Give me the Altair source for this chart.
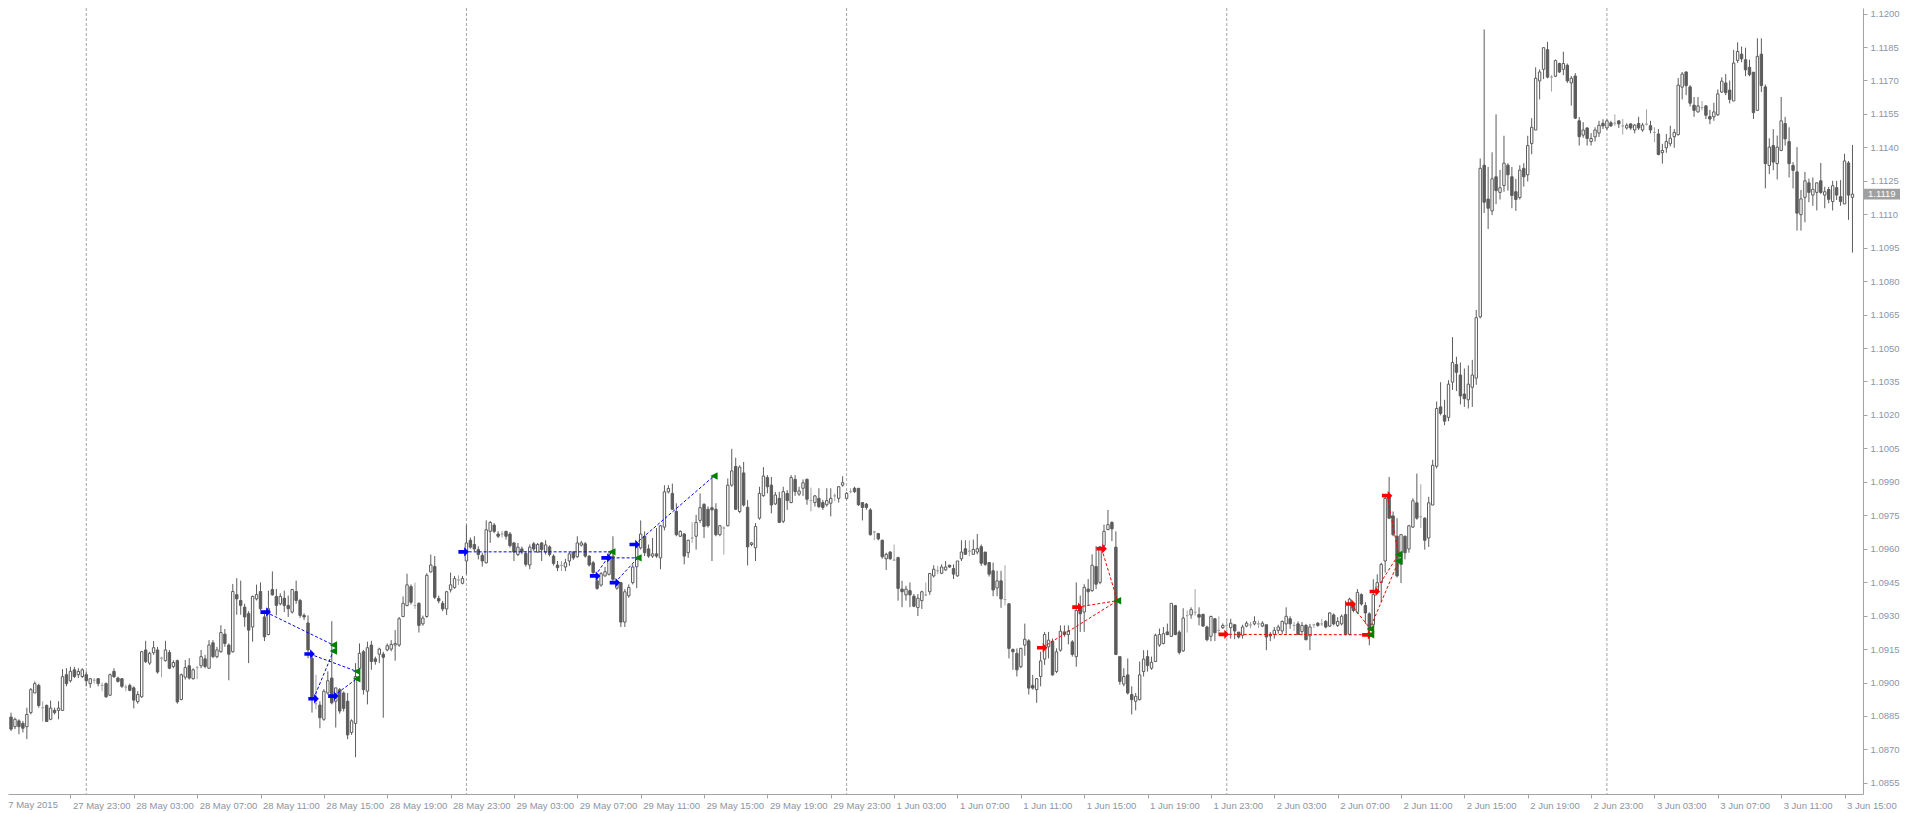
import json
import altair as alt
import pandas as pd

# ---------------- candle data (15-minute EURUSD bars): (open, high, low, close)
may27 = [
    (1.08845, 1.08865, 1.08783, 1.08791), (1.08802, 1.08842, 1.08791, 1.08835),
    (1.08828, 1.08835, 1.08768, 1.08802), (1.08817, 1.08828, 1.08776, 1.08795),
    (1.08802, 1.08887, 1.08746, 1.08857), (1.08865, 1.08975, 1.08857, 1.08968),
    (1.08953, 1.09005, 1.08953, 1.08995), (1.08987, 1.08995, 1.08887, 1.08897),
    (1.08887, 1.08916, 1.08825, 1.08887), (1.08897, 1.08902, 1.08825, 1.08825),
    (1.08835, 1.08919, 1.08831, 1.08885), (1.08875, 1.08887, 1.08857, 1.08865),
    (1.08875, 1.08916, 1.08835, 1.08885), (1.08875, 1.09060, 1.08872, 1.09026),
    (1.09035, 1.09064, 1.08983, 1.08995), (1.09008, 1.09070, 1.09000, 1.09050),
    (1.09057, 1.09070, 1.09020, 1.09027), (1.09035, 1.09064, 1.09020, 1.09050),
    (1.09027, 1.09064, 1.09020, 1.09057),
]
may28 = [
    (1.09035, 1.09050, 1.08983, 1.09008), (1.08995, 1.09020, 1.08976, 1.09017),
    (1.09010, 1.09020, 1.08995, 1.09010), (1.09017, 1.09020, 1.08983, 1.08995),
    (1.08987, 1.09000, 1.08961, 1.08987), (1.08995, 1.09000, 1.08931, 1.08936),
    (1.08943, 1.09040, 1.08940, 1.09035), (1.09050, 1.09064, 1.09020, 1.09026),
    (1.09020, 1.09026, 1.09000, 1.09005), (1.09017, 1.09020, 1.08976, 1.08983),
    (1.08979, 1.08990, 1.08961, 1.08979), (1.08987, 1.08995, 1.08961, 1.08965),
    (1.08976, 1.08983, 1.08884, 1.08921), (1.08914, 1.08961, 1.08905, 1.08946),
    (1.08936, 1.09142, 1.08931, 1.09138), (1.09146, 1.09187, 1.09087, 1.09094),
    (1.09087, 1.09138, 1.09079, 1.09131), (1.09134, 1.09186, 1.09124, 1.09156),
    (1.09146, 1.09160, 1.09040, 1.09047), (1.09109, 1.09116, 1.09024, 1.09109),
    (1.09098, 1.09187, 1.09094, 1.09146), (1.09135, 1.09146, 1.09060, 1.09064),
    (1.09072, 1.09100, 1.09064, 1.09090), (1.09098, 1.09103, 1.08905, 1.08913),
    (1.08924, 1.09040, 1.08920, 1.09035), (1.09024, 1.09101, 1.09013, 1.09067),
    (1.09075, 1.09109, 1.09013, 1.09020), (1.09017, 1.09064, 1.09013, 1.09057),
    (1.09067, 1.09075, 1.09015, 1.09067), (1.09075, 1.09146, 1.09064, 1.09116),
    (1.09106, 1.09124, 1.09064, 1.09072), (1.09064, 1.09190, 1.09064, 1.09168),
    (1.09178, 1.09190, 1.09109, 1.09116), (1.09116, 1.09160, 1.09109, 1.09146),
    (1.09138, 1.09257, 1.09134, 1.09224), (1.09217, 1.09240, 1.09160, 1.09175),
    (1.09168, 1.09175, 1.09010, 1.09127), (1.09138, 1.09442, 1.09134, 1.09408),
    (1.09394, 1.09468, 1.09304, 1.09375), (1.09368, 1.09457, 1.09304, 1.09346),
    (1.09338, 1.09353, 1.09250, 1.09294), (1.09309, 1.09320, 1.09087, 1.09235),
    (1.09249, 1.09390, 1.09183, 1.09386), (1.09375, 1.09439, 1.09368, 1.09394),
    (1.09408, 1.09449, 1.09323, 1.09331), (1.09294, 1.09323, 1.09186, 1.09205),
    (1.09215, 1.09412, 1.09212, 1.09331), (1.09417, 1.09498, 1.09390, 1.09393),
    (1.09386, 1.09420, 1.09301, 1.09346), (1.09353, 1.09400, 1.09346, 1.09386),
    (1.09378, 1.09412, 1.09316, 1.09346), (1.09346, 1.09390, 1.09294, 1.09331),
    (1.09316, 1.09420, 1.09309, 1.09417), (1.09408, 1.09457, 1.09353, 1.09368),
    (1.09368, 1.09375, 1.09290, 1.09301), (1.09301, 1.09310, 1.09280, 1.09294),
    (1.09267, 1.09301, 1.09109, 1.09146), (1.09109, 1.09124, 1.08865, 1.08931),
    (1.08905, 1.09035, 1.08880, 1.08905), (1.08899, 1.08916, 1.08795, 1.08842),
    (1.08835, 1.08970, 1.08828, 1.08961), (1.08953, 1.09050, 1.08946, 1.09008),
    (1.09020, 1.09275, 1.08902, 1.08909), (1.08916, 1.08976, 1.08798, 1.08976),
    (1.08968, 1.08975, 1.08860, 1.08872), (1.08953, 1.08960, 1.08870, 1.08884),
    (1.08916, 1.08953, 1.08746, 1.08765), (1.08776, 1.08835, 1.08765, 1.08828),
    (1.08816, 1.09087, 1.08665, 1.09027), (1.09064, 1.09175, 1.09027, 1.09131),
    (1.09138, 1.09146, 1.08946, 1.08968), (1.08961, 1.09183, 1.08902, 1.09156),
    (1.09168, 1.09187, 1.09057, 1.09094), (1.09106, 1.09116, 1.09080, 1.09094),
    (1.09127, 1.09156, 1.09087, 1.09150), (1.09127, 1.09138, 1.08842, 1.09113),
    (1.09146, 1.09175, 1.09140, 1.09165), (1.09150, 1.09190, 1.09140, 1.09171),
    (1.09168, 1.09235, 1.09098, 1.09175), (1.09168, 1.09294, 1.09160, 1.09286),
    (1.09296, 1.09386, 1.09293, 1.09355), (1.09345, 1.09488, 1.09342, 1.09438),
    (1.09430, 1.09440, 1.09350, 1.09360), (1.09345, 1.09448, 1.09330, 1.09345),
    (1.09355, 1.09360, 1.09224, 1.09256), (1.09263, 1.09300, 1.09255, 1.09289),
    (1.09296, 1.09490, 1.09290, 1.09481), (1.09496, 1.09574, 1.09493, 1.09527),
    (1.09520, 1.09567, 1.09374, 1.09382), (1.09377, 1.09390, 1.09355, 1.09366),
    (1.09355, 1.09366, 1.09320, 1.09330), (1.09330, 1.09411, 1.09303, 1.09407),
    (1.09416, 1.09493, 1.09404, 1.09438), (1.09426, 1.09478, 1.09420, 1.09466),
    (1.09460, 1.09481, 1.09437, 1.09460), (1.09445, 1.09478, 1.09440, 1.09466),
]
may29 = [
    (1.09545, 1.09707, 1.09485, 1.09626), (1.09638, 1.09650, 1.09600, 1.09607),
    (1.09619, 1.09656, 1.09589, 1.09599), (1.09596, 1.09611, 1.09552, 1.09574),
    (1.09570, 1.09582, 1.09520, 1.09545), (1.09537, 1.09727, 1.09534, 1.09685),
    (1.09678, 1.09724, 1.09626, 1.09718), (1.09706, 1.09715, 1.09670, 1.09678),
    (1.09666, 1.09678, 1.09648, 1.09656), (1.09666, 1.09680, 1.09650, 1.09666),
    (1.09678, 1.09680, 1.09641, 1.09656), (1.09666, 1.09675, 1.09605, 1.09614),
    (1.09626, 1.09629, 1.09545, 1.09585), (1.09574, 1.09626, 1.09567, 1.09607),
    (1.09599, 1.09610, 1.09575, 1.09585), (1.09579, 1.09590, 1.09520, 1.09530),
    (1.09527, 1.09619, 1.09508, 1.09607), (1.09622, 1.09630, 1.09590, 1.09599),
    (1.09585, 1.09626, 1.09582, 1.09619), (1.09626, 1.09630, 1.09545, 1.09596),
    (1.09585, 1.09638, 1.09574, 1.09617), (1.09608, 1.09615, 1.09565, 1.09574),
    (1.09567, 1.09575, 1.09525, 1.09534), (1.09527, 1.09545, 1.09500, 1.09515),
    (1.09525, 1.09545, 1.09500, 1.09525), (1.09518, 1.09555, 1.09500, 1.09537),
    (1.09545, 1.09585, 1.09523, 1.09577), (1.09585, 1.09590, 1.09550, 1.09559),
    (1.09564, 1.09656, 1.09559, 1.09626), (1.09616, 1.09635, 1.09610, 1.09626),
    (1.09622, 1.09630, 1.09560, 1.09567), (1.09567, 1.09570, 1.09520, 1.09527),
    (1.09537, 1.09545, 1.09485, 1.09493), (1.09456, 1.09471, 1.09416, 1.09422),
    (1.09437, 1.09495, 1.09430, 1.09488), (1.09478, 1.09519, 1.09475, 1.09497),
    (1.09485, 1.09590, 1.09480, 1.09567), (1.09567, 1.09656, 1.09456, 1.09463),
    (1.09423, 1.09450, 1.09416, 1.09441), (1.09448, 1.09450, 1.09249, 1.09271),
    (1.09271, 1.09419, 1.09249, 1.09407), (1.09389, 1.09440, 1.09380, 1.09426),
    (1.09448, 1.09530, 1.09440, 1.09518), (1.09519, 1.09626, 1.09423, 1.09616),
    (1.09604, 1.09727, 1.09596, 1.09666), (1.09656, 1.09678, 1.09567, 1.09582),
    (1.09599, 1.09619, 1.09559, 1.09567), (1.09567, 1.09648, 1.09559, 1.09577),
    (1.09577, 1.09693, 1.09559, 1.09567), (1.09559, 1.09707, 1.09508, 1.09703),
    (1.09697, 1.09885, 1.09682, 1.09855), (1.09855, 1.09885, 1.09848, 1.09870),
    (1.09848, 1.09892, 1.09774, 1.09777), (1.09767, 1.09804, 1.09656, 1.09663),
    (1.09656, 1.09682, 1.09653, 1.09678), (1.09666, 1.09670, 1.09530, 1.09567),
    (1.09582, 1.09640, 1.09559, 1.09638), (1.09648, 1.09719, 1.09626, 1.09648),
    (1.09656, 1.09752, 1.09596, 1.09718), (1.09727, 1.09848, 1.09715, 1.09784),
    (1.09799, 1.09804, 1.09648, 1.09700), (1.09777, 1.09790, 1.09695, 1.09703),
    (1.09784, 1.09922, 1.09545, 1.09774), (1.09777, 1.09804, 1.09656, 1.09663),
    (1.09663, 1.09705, 1.09656, 1.09703), (1.09693, 1.09700, 1.09574, 1.09693),
    (1.09703, 1.09915, 1.09700, 1.09885), (1.09885, 1.10048, 1.09878, 1.09949),
    (1.09969, 1.10008, 1.09774, 1.09777), (1.09767, 1.09974, 1.09759, 1.09966),
    (1.09940, 1.09989, 1.09789, 1.09796), (1.09786, 1.09818, 1.09525, 1.09608),
    (1.09619, 1.09630, 1.09611, 1.09626), (1.09604, 1.09715, 1.09545, 1.09700),
    (1.09737, 1.09878, 1.09730, 1.09848), (1.09838, 1.09966, 1.09833, 1.09926),
    (1.09919, 1.09930, 1.09848, 1.09878), (1.09885, 1.09922, 1.09759, 1.09796),
    (1.09801, 1.09855, 1.09796, 1.09841), (1.09826, 1.09855, 1.09715, 1.09718),
    (1.09723, 1.09878, 1.09715, 1.09856), (1.09848, 1.09863, 1.09774, 1.09816),
    (1.09807, 1.09930, 1.09804, 1.09919), (1.09911, 1.09930, 1.09837, 1.09856),
    (1.09845, 1.09878, 1.09837, 1.09859), (1.09871, 1.09911, 1.09837, 1.09896),
    (1.09911, 1.09915, 1.09797, 1.09822), (1.09816, 1.09874, 1.09767, 1.09816),
    (1.09807, 1.09841, 1.09789, 1.09837), (1.09826, 1.09871, 1.09782, 1.09789),
    (1.09807, 1.09819, 1.09774, 1.09785), (1.09797, 1.09871, 1.09789, 1.09816),
    (1.09804, 1.09871, 1.09745, 1.09826), (1.09837, 1.09848, 1.09814, 1.09837),
    (1.09826, 1.09881, 1.09807, 1.09878), (1.09885, 1.09925, 1.09878, 1.09896),
]
jun01 = [
    (1.09826, 1.09855, 1.09820, 1.09848), (1.09856, 1.09871, 1.09848, 1.09856),
    (1.09871, 1.09878, 1.09850, 1.09856), (1.09871, 1.09871, 1.09792, 1.09797),
    (1.09807, 1.09807, 1.09727, 1.09785), (1.09800, 1.09805, 1.09775, 1.09785),
    (1.09774, 1.09782, 1.09659, 1.09663), (1.09675, 1.09681, 1.09638, 1.09675),
    (1.09668, 1.09671, 1.09638, 1.09644), (1.09638, 1.09641, 1.09555, 1.09564),
    (1.09555, 1.09582, 1.09505, 1.09575), (1.09585, 1.09590, 1.09550, 1.09555),
    (1.09549, 1.09619, 1.09545, 1.09549), (1.09560, 1.09564, 1.09367, 1.09422),
    (1.09419, 1.09456, 1.09338, 1.09407), (1.09393, 1.09434, 1.09367, 1.09419),
    (1.09412, 1.09449, 1.09338, 1.09393), (1.09387, 1.09397, 1.09338, 1.09342),
    (1.09336, 1.09397, 1.09298, 1.09378), (1.09367, 1.09412, 1.09330, 1.09407),
    (1.09393, 1.09449, 1.09387, 1.09393), (1.09407, 1.09489, 1.09393, 1.09489),
    (1.09478, 1.09526, 1.09471, 1.09508), (1.09501, 1.09523, 1.09486, 1.09501),
    (1.09490, 1.09530, 1.09486, 1.09518), (1.09505, 1.09545, 1.09501, 1.09518),
    (1.09526, 1.09528, 1.09515, 1.09518), (1.09511, 1.09530, 1.09464, 1.09486),
    (1.09478, 1.09545, 1.09475, 1.09545), (1.09555, 1.09638, 1.09545, 1.09585),
    (1.09600, 1.09638, 1.09575, 1.09575), (1.09589, 1.09638, 1.09567, 1.09589),
    (1.09575, 1.09641, 1.09575, 1.09597), (1.09585, 1.09666, 1.09575, 1.09600),
    (1.09609, 1.09619, 1.09523, 1.09535), (1.09585, 1.09585, 1.09523, 1.09530),
    (1.09538, 1.09538, 1.09475, 1.09486), (1.09501, 1.09538, 1.09387, 1.09415),
    (1.09424, 1.09501, 1.09387, 1.09456), (1.09456, 1.09501, 1.09335, 1.09375),
    (1.09372, 1.09526, 1.09345, 1.09372), (1.09353, 1.09356, 1.09108, 1.09153),
    (1.09148, 1.09153, 1.09057, 1.09138), (1.09131, 1.09153, 1.09027, 1.09057),
    (1.09071, 1.09156, 1.09064, 1.09153), (1.09168, 1.09264, 1.09120, 1.09194),
    (1.09187, 1.09194, 1.08946, 1.08975), (1.08987, 1.09034, 1.08968, 1.08975),
    (1.08968, 1.09020, 1.08909, 1.09017), (1.09027, 1.09138, 1.08983, 1.09097),
    (1.09105, 1.09227, 1.09079, 1.09215), (1.09160, 1.09227, 1.09108, 1.09190),
    (1.09185, 1.09197, 1.09031, 1.09034), (1.09049, 1.09153, 1.09042, 1.09138),
    (1.09145, 1.09256, 1.09138, 1.09230), (1.09227, 1.09256, 1.09205, 1.09215),
    (1.09215, 1.09256, 1.09171, 1.09231), (1.09182, 1.09190, 1.09116, 1.09126),
    (1.09116, 1.09449, 1.09071, 1.09323), (1.09338, 1.09390, 1.09227, 1.09308),
    (1.09316, 1.09441, 1.09227, 1.09427), (1.09419, 1.09464, 1.09345, 1.09407),
    (1.09412, 1.09575, 1.09407, 1.09526), (1.09520, 1.09612, 1.09419, 1.09441),
    (1.09449, 1.09612, 1.09441, 1.09609), (1.09615, 1.09708, 1.09604, 1.09678),
    (1.09686, 1.09774, 1.09683, 1.09708), (1.09718, 1.09723, 1.09634, 1.09689),
    (1.09607, 1.09678, 1.09123, 1.09126), (1.09116, 1.09116, 1.08990, 1.09005),
    (1.08993, 1.09064, 1.08983, 1.09027), (1.09034, 1.09108, 1.08946, 1.08953),
    (1.08946, 1.08983, 1.08857, 1.08923), (1.08916, 1.08953, 1.08875, 1.08938),
    (1.08923, 1.09094, 1.08920, 1.09034), (1.09049, 1.09145, 1.09027, 1.09105),
    (1.09116, 1.09145, 1.09049, 1.09076), (1.09064, 1.09116, 1.09057, 1.09091),
    (1.09094, 1.09219, 1.09094, 1.09212), (1.09168, 1.09242, 1.09160, 1.09215),
    (1.09175, 1.09249, 1.09171, 1.09219), (1.09227, 1.09264, 1.09212, 1.09215),
    (1.09207, 1.09355, 1.09204, 1.09355), (1.09345, 1.09348, 1.09212, 1.09215),
    (1.09226, 1.09234, 1.09126, 1.09135), (1.09142, 1.09333, 1.09138, 1.09289),
    (1.09300, 1.09323, 1.09224, 1.09300), (1.09303, 1.09337, 1.09286, 1.09327),
    (1.09315, 1.09419, 1.09300, 1.09315), (1.09305, 1.09337, 1.09256, 1.09293),
    (1.09305, 1.09310, 1.09250, 1.09253), (1.09249, 1.09255, 1.09185, 1.09192),
    (1.09207, 1.09300, 1.09185, 1.09296), (1.09286, 1.09289, 1.09186, 1.09223),
    (1.09234, 1.09297, 1.09215, 1.09234), (1.09246, 1.09265, 1.09240, 1.09256),
]
jun02 = [
    (1.09256, 1.09286, 1.09212, 1.09256), (1.09246, 1.09286, 1.09197, 1.09266),
    (1.09259, 1.09263, 1.09194, 1.09231), (1.09226, 1.09226, 1.09197, 1.09204),
    (1.09212, 1.09259, 1.09197, 1.09249), (1.09253, 1.09275, 1.09248, 1.09266),
    (1.09258, 1.09271, 1.09244, 1.09258), (1.09263, 1.09297, 1.09256, 1.09273),
    (1.09263, 1.09278, 1.09244, 1.09263), (1.09253, 1.09275, 1.09248, 1.09266),
    (1.09259, 1.09259, 1.09145, 1.09204), (1.09216, 1.09226, 1.09186, 1.09209),
    (1.09216, 1.09249, 1.09197, 1.09234), (1.09234, 1.09259, 1.09219, 1.09249),
    (1.09231, 1.09278, 1.09216, 1.09274), (1.09263, 1.09337, 1.09216, 1.09297),
    (1.09286, 1.09297, 1.09241, 1.09263), (1.09256, 1.09271, 1.09231, 1.09256),
    (1.09263, 1.09274, 1.09215, 1.09216), (1.09229, 1.09271, 1.09212, 1.09256),
    (1.09256, 1.09263, 1.09189, 1.09192), (1.09209, 1.09263, 1.09145, 1.09249),
    (1.09259, 1.09263, 1.09244, 1.09259), (1.09266, 1.09271, 1.09250, 1.09256),
    (1.09263, 1.09286, 1.09253, 1.09263), (1.09274, 1.09280, 1.09243, 1.09249),
    (1.09253, 1.09315, 1.09249, 1.09312), (1.09303, 1.09310, 1.09256, 1.09263),
    (1.09256, 1.09293, 1.09249, 1.09274), (1.09263, 1.09305, 1.09256, 1.09297),
    (1.09305, 1.09367, 1.09212, 1.09216), (1.09216, 1.09380, 1.09212, 1.09374),
    (1.09348, 1.09360, 1.09315, 1.09323), (1.09315, 1.09419, 1.09308, 1.09404),
    (1.09394, 1.09400, 1.09345, 1.09352), (1.09345, 1.09360, 1.09263, 1.09312),
    (1.09308, 1.09315, 1.09167, 1.09234), (1.09259, 1.09463, 1.09253, 1.09394),
    (1.09407, 1.09485, 1.09404, 1.09448), (1.09448, 1.09537, 1.09360, 1.09530),
    (1.09545, 1.09841, 1.09493, 1.09826), (1.09833, 1.09922, 1.09733, 1.09737),
    (1.09747, 1.09767, 1.09656, 1.09663), (1.09656, 1.09737, 1.09471, 1.09478),
    (1.09530, 1.09663, 1.09446, 1.09663), (1.09656, 1.09659, 1.09552, 1.09582),
    (1.09599, 1.09707, 1.09582, 1.09703), (1.09697, 1.09826, 1.09693, 1.09815),
    (1.09806, 1.09937, 1.09730, 1.09737), (1.09744, 1.09889, 1.09693, 1.09744),
    (1.09737, 1.09741, 1.09596, 1.09638), (1.09648, 1.09833, 1.09608, 1.09806),
    (1.09796, 1.09999, 1.09796, 1.09974), (1.09970, 1.10260, 1.09960, 1.10229),
    (1.10236, 1.10347, 1.10198, 1.10207), (1.10198, 1.10268, 1.10154, 1.10172),
    (1.10189, 1.10356, 1.10172, 1.10338), (1.10347, 1.10549, 1.10312, 1.10435),
    (1.10426, 1.10461, 1.10307, 1.10391), (1.10379, 1.10435, 1.10247, 1.10285),
    (1.10294, 1.10408, 1.10236, 1.10273), (1.10268, 1.10422, 1.10229, 1.10338),
    (1.10324, 1.10447, 1.10236, 1.10379), (1.10365, 1.10671, 1.10335, 1.10636),
    (1.10640, 1.11350, 1.10633, 1.11306), (1.11320, 1.11929, 1.11106, 1.11154),
    (1.11168, 1.11312, 1.11034, 1.11127), (1.11115, 1.11378, 1.11096, 1.11259),
    (1.11268, 1.11548, 1.11145, 1.11206), (1.11198, 1.11299, 1.11166, 1.11219),
    (1.11229, 1.11452, 1.11201, 1.11329), (1.11320, 1.11329, 1.11206, 1.11277),
    (1.11268, 1.11312, 1.11127, 1.11184), (1.11201, 1.11259, 1.11115, 1.11166),
    (1.11175, 1.11320, 1.11166, 1.11298), (1.11306, 1.11329, 1.11224, 1.11268),
    (1.11277, 1.11452, 1.11247, 1.11408), (1.11417, 1.11531, 1.11369, 1.11490),
    (1.11478, 1.11759, 1.11478, 1.11710), (1.11698, 1.11750, 1.11615, 1.11738),
    (1.11750, 1.11847, 1.11706, 1.11847), (1.11838, 1.11873, 1.11710, 1.11715),
    (1.11715, 1.11724, 1.11650, 1.11715), (1.11719, 1.11794, 1.11715, 1.11789),
    (1.11776, 1.11780, 1.11733, 1.11738), (1.11750, 1.11829, 1.11724, 1.11776),
    (1.11768, 1.11776, 1.11689, 1.11698), (1.11689, 1.11720, 1.11587, 1.11710),
    (1.11720, 1.11733, 1.11527, 1.11531), (1.11519, 1.11536, 1.11408, 1.11448),
    (1.11455, 1.11513, 1.11443, 1.11478), (1.11487, 1.11490, 1.11408, 1.11440),
    (1.11426, 1.11464, 1.11408, 1.11440), (1.11447, 1.11490, 1.11426, 1.11478),
    (1.11464, 1.11519, 1.11447, 1.11499), (1.11508, 1.11526, 1.11482, 1.11496),
]
jun03 = [
    (1.11487, 1.11526, 1.11478, 1.11519), (1.11510, 1.11519, 1.11492, 1.11496),
    (1.11508, 1.11548, 1.11496, 1.11508), (1.11519, 1.11519, 1.11487, 1.11505),
    (1.11496, 1.11527, 1.11457, 1.11496), (1.11487, 1.11508, 1.11480, 1.11499),
    (1.11505, 1.11508, 1.11478, 1.11487), (1.11478, 1.11504, 1.11463, 1.11500),
    (1.11507, 1.11537, 1.11478, 1.11487), (1.11478, 1.11510, 1.11470, 1.11500),
    (1.11504, 1.11571, 1.11497, 1.11504), (1.11497, 1.11519, 1.11463, 1.11478),
    (1.11467, 1.11490, 1.11423, 1.11467), (1.11460, 1.11482, 1.11364, 1.11368),
    (1.11376, 1.11416, 1.11327, 1.11386), (1.11398, 1.11460, 1.11376, 1.11426),
    (1.11416, 1.11497, 1.11404, 1.11441), (1.11448, 1.11482, 1.11398, 1.11467),
    (1.11457, 1.11711, 1.11453, 1.11679), (1.11670, 1.11738, 1.11615, 1.11729),
    (1.11738, 1.11741, 1.11634, 1.11677), (1.11671, 1.11679, 1.11583, 1.11598),
    (1.11589, 1.11626, 1.11537, 1.11566), (1.11559, 1.11626, 1.11556, 1.11586),
    (1.11578, 1.11608, 1.11566, 1.11578), (1.11586, 1.11589, 1.11527, 1.11544),
    (1.11538, 1.11568, 1.11504, 1.11527), (1.11537, 1.11600, 1.11519, 1.11559),
    (1.11546, 1.11660, 1.11541, 1.11640), (1.11648, 1.11714, 1.11645, 1.11697),
    (1.11689, 1.11729, 1.11634, 1.11645), (1.11657, 1.11700, 1.11597, 1.11615),
    (1.11608, 1.11837, 1.11608, 1.11778), (1.11790, 1.11871, 1.11778, 1.11830),
    (1.11818, 1.11852, 1.11782, 1.11797), (1.11793, 1.11847, 1.11719, 1.11748),
    (1.11759, 1.11793, 1.11719, 1.11726), (1.11737, 1.11737, 1.11527, 1.11556),
    (1.11566, 1.11889, 1.11566, 1.11808), (1.11818, 1.11889, 1.11648, 1.11677),
    (1.11671, 1.11682, 1.11216, 1.11327), (1.11319, 1.11441, 1.11280, 1.11401),
    (1.11408, 1.11482, 1.11297, 1.11334), (1.11327, 1.11453, 1.11256, 1.11401),
    (1.11386, 1.11626, 1.11383, 1.11519), (1.11507, 1.11537, 1.11408, 1.11438),
    (1.11426, 1.11490, 1.11265, 1.11327), (1.11319, 1.11334, 1.11216, 1.11297),
    (1.11290, 1.11401, 1.11027, 1.11105), (1.11098, 1.11209, 1.11027, 1.11169),
    (1.11176, 1.11290, 1.11064, 1.11250), (1.11241, 1.11260, 1.11154, 1.11198),
    (1.11186, 1.11265, 1.11138, 1.11212), (1.11198, 1.11241, 1.11117, 1.11241),
    (1.11250, 1.11330, 1.11191, 1.11198), (1.11186, 1.11223, 1.11127, 1.11201),
    (1.11211, 1.11223, 1.11149, 1.11167), (1.11157, 1.11250, 1.11117, 1.11228),
    (1.11219, 1.11250, 1.11164, 1.11186), (1.11179, 1.11253, 1.11138, 1.11157),
    (1.11146, 1.11371, 1.11146, 1.11339), (1.11330, 1.11339, 1.11075, 1.11186),
    (1.11176, 1.11411, 1.10928, 1.11190),
]

# ---------------- time axis labels (bar index -> text)
first_label = "27 May 2015"
tick_idx = [15, 31, 47, 63, 79, 95, 111, 127, 143, 159, 175, 191, 207, 223, 239,
            255, 271, 287, 303, 319, 335, 351, 367, 383, 399, 415, 431, 447, 463]
tick_text = ["27 May 23:00", "28 May 03:00", "28 May 07:00", "28 May 11:00",
             "28 May 15:00", "28 May 19:00", "28 May 23:00", "29 May 03:00",
             "29 May 07:00", "29 May 11:00", "29 May 15:00", "29 May 19:00",
             "29 May 23:00", "1 Jun 03:00", "1 Jun 07:00", "1 Jun 11:00",
             "1 Jun 15:00", "1 Jun 19:00", "1 Jun 23:00", "2 Jun 03:00",
             "2 Jun 07:00", "2 Jun 11:00", "2 Jun 15:00", "2 Jun 19:00",
             "2 Jun 23:00", "3 Jun 03:00", "3 Jun 07:00", "3 Jun 11:00",
             "3 Jun 15:00"]
price_ticks = [1.0855, 1.0870, 1.0885, 1.0900, 1.0915, 1.0930, 1.0945, 1.0960,
               1.0975, 1.0990, 1.1005, 1.1020, 1.1035, 1.1050, 1.1065, 1.1080,
               1.1095, 1.1110, 1.1125, 1.1140, 1.1155, 1.1170, 1.1185, 1.1200]

# ---------------- trades (bar index, price)
buy_open_i = [64.3, 75.4, 76.4, 81.4, 114.3, 147.5, 150.4, 152.5, 157.5]
buy_open_p = [1.09316, 1.09128, 1.08927, 1.08939, 1.09586, 1.09478, 1.09559, 1.09448, 1.09619]
buy_close_i = [81.4, 87.3, 81.4, 87.3, 151.7, 151.7, 158.3, 158.3, 177.5]
buy_close_p = [1.09168, 1.09050, 1.09141, 1.09017, 1.09586, 1.09586, 1.09559, 1.09559, 1.09926]
sell_open_i = [260.4, 269.3, 275.4, 306.25, 338.3, 342.5, 344.4, 347.5]
sell_open_p = [1.09156, 1.09338, 1.09600, 1.09216, 1.09352, 1.09214, 1.09408, 1.09838]
sell_close_i = [279.4, 279.4, 279.4, 343.3, 343.3, 350.4, 350.4, 350.4]
sell_close_p = [1.09367, 1.09367, 1.09367, 1.09214, 1.09240, 1.09545, 1.09574, 1.09574]

# ---------------- build tables
days = [may27, may28, may29, jun01, jun02, jun03]
rows, sep_idx, n = [], [], 0
for d, day in enumerate(days):
    if d > 0:
        sep_idx.append(n)
    for o, h, l, c in day:
        kind = "bull" if c > o else ("bear" if c < o else "doji")
        rows.append(dict(i=n, open=o, high=h, low=l, close=c, kind=kind))
        n += 1
df = pd.DataFrame(rows)
seps = pd.DataFrame({"i": sep_idx})

buys = pd.DataFrame({"oi": buy_open_i, "op": buy_open_p, "ci": buy_close_i, "cp": buy_close_p})
sells = pd.DataFrame({"oi": sell_open_i, "op": sell_open_p, "ci": sell_close_i, "cp": sell_close_p})
closes = pd.concat([buys, sells])[["ci", "cp"]].drop_duplicates()
last = pd.DataFrame({"p": [df["close"].iloc[-1]], "t": [f"{df['close'].iloc[-1]:.4f}"]})

W, H = 1855, 786
FONT = "Liberation Sans"
DIM, LIGHT = "#5c5c5c", "#a4a4a4"
XLAB, YLAB = "#8d94a0", "#8a96ab"
xs = alt.Scale(domain=[0.5, 466.4], nice=False, zero=False)
ys = alt.Scale(domain=[1.0850, 1.12025], nice=False, zero=False)
kind_dom = ["bull", "bear", "doji"]

label_expr = f"{json.dumps(tick_text)}[indexof({json.dumps(tick_idx)}, datum.value)]"

x_axis = alt.Axis(values=tick_idx, labelExpr=label_expr, labelAlign="left", labelOffset=2,
                  labelOverlap=False, labelFlush=False, tickSize=4, tickColor=LIGHT,
                  domainColor=LIGHT, labelColor=XLAB, labelFont=FONT, labelFontSize=9.5,
                  labelPadding=2, grid=False, title=None)
y_axis = alt.Axis(orient="right", values=price_ticks, format=".4f", tickSize=4, tickColor=LIGHT,
                  domainColor=LIGHT, labelColor=YLAB, labelFont=FONT, labelFontSize=9.5,
                  labelPadding=3, grid=False, title=None, labelOverlap=False, labelFlush=False)


def X(field):
    return alt.X(field, type="quantitative", scale=xs, axis=x_axis)


def Y(field):
    return alt.Y(field, type="quantitative", scale=ys, axis=y_axis)


sep_layer = alt.Chart(seps).mark_rule(color=LIGHT, strokeDash=[3, 2], strokeWidth=1).encode(
    x=X("i"))

wick = alt.Chart(df).mark_rule(strokeWidth=1, clip=True).encode(
    x=X("i"), y=Y("low"), y2="high",
    color=alt.Color("kind:N", scale=alt.Scale(domain=kind_dom, range=[DIM, DIM, LIGHT]), legend=None))

body = alt.Chart(df).mark_bar(width=2.4, strokeWidth=1, clip=True).encode(
    x=X("i"), y=Y("open"), y2="close",
    fill=alt.Fill("kind:N", scale=alt.Scale(domain=kind_dom, range=["#ffffff", DIM, LIGHT]), legend=None),
    stroke=alt.Stroke("kind:N", scale=alt.Scale(domain=kind_dom, range=[DIM, DIM, LIGHT]), legend=None))

arrow_path = "M-1,-0.35L0.1,-0.35L0.1,-0.9L1,0L0.1,0.9L0.1,0.35L-1,0.35Z"


def trade_layers(data, col):
    link = alt.Chart(data).mark_rule(strokeDash=[3, 2], strokeWidth=1, color=col).encode(
        x=X("oi"), x2="ci", y=Y("op"), y2="cp")
    arrow = alt.Chart(data).mark_point(shape=arrow_path, filled=True, size=110, opacity=1,
                                       color=col, strokeWidth=0).encode(x=X("oi"), y=Y("op"))
    return [link, arrow]


exits = alt.Chart(closes).mark_point(shape="M1,-1L-1,0L1,1Z", filled=True, size=55,
                                     color="#008000", opacity=1, strokeWidth=0).encode(
    x=X("ci"), y=Y("cp"))

price_box = alt.Chart(last).mark_point(shape="M-1,-0.3L1,-0.3L1,0.3L-1,0.3Z", filled=True,
                                       size=1296, color="#a0a0a0", opacity=1, strokeWidth=0).encode(
    x=alt.value(W + 19), y=Y("p"))
price_txt = alt.Chart(last).mark_text(align="left", baseline="middle", color="#ffffff",
                                      font=FONT, fontSize=9.5).encode(
    x=alt.value(W + 5), y=Y("p"), text="t:N")

first_lbl = alt.Chart(pd.DataFrame({"t": [first_label]})).mark_text(
    align="left", baseline="top", color=XLAB, font=FONT, fontSize=9.5).encode(
    x=alt.value(-5), y=alt.value(H + 6), text="t:N")

layers = [sep_layer, wick, body] + trade_layers(buys, "#0000ff") + trade_layers(sells, "#ff0000") + \
    [exits, price_box, price_txt, first_lbl]

chart = alt.layer(*layers).properties(
    width=W, height=H,
    autosize=alt.AutoSizeParams(type="none"),
    padding={"left": 0, "top": 0, "right": 38, "bottom": 17},
    background="#ffffff",
).configure_view(strokeWidth=0)

chart.save("out.html", embed_options={"renderer": "svg", "actions": False})
